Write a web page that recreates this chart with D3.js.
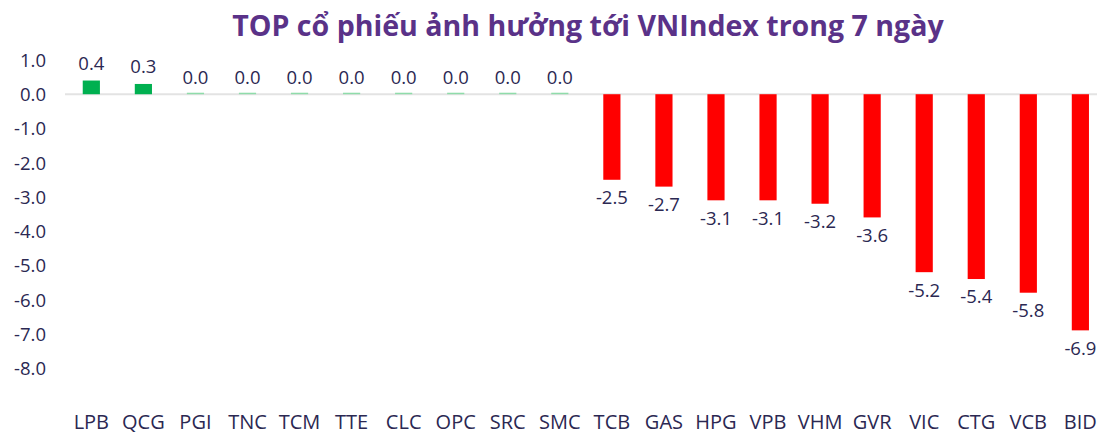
<!DOCTYPE html>
<html>
<head>
<meta charset="utf-8">
<script src="https://cdn.jsdelivr.net/npm/d3@7"></script>
<style>
  html, body { margin: 0; padding: 0; background: #fff; }
  svg { display: block; }
  text { font-family: "Open Sans", "Noto Sans", sans-serif; }
</style>
</head>
<body>
<svg id="chart" width="1099" height="434"></svg>
<script>
const titleText = "TOP cổ phiếu ảnh hưởng tới VNIndex trong 7 ngày";
const categories = ["LPB","QCG","PGI","TNC","TCM","TTE","CLC","OPC","SRC","SMC","TCB","GAS","HPG","VPB","VHM","GVR","VIC","CTG","VCB","BID"];
const values = [0.4,0.3,0.0,0.0,0.0,0.0,0.0,0.0,0.0,0.0,-2.5,-2.7,-3.1,-3.1,-3.2,-3.6,-5.2,-5.4,-5.8,-6.9];
const yTicks = [1,0,-1,-2,-3,-4,-5,-6,-7,-8];

const W = 1099, H = 434;
const svg = d3.select("#chart");
const textColor = "#2b2852";
const green = "#00b050", red = "#ff0000";
const fmt = v => d3.format(".1f")(v).replace("\u2212", "-");

const y = d3.scaleLinear().domain([-8, 1]).range([368, 60]);
const x = d3.scaleBand().domain(categories).range([65.3, 1106.4]).paddingInner(0.67).paddingOuter(0.335);

// title
const title = svg.append("text")
  .attr("x", 588).attr("y", 36)
  .attr("text-anchor", "middle")
  .attr("font-weight", "bold")
  .attr("font-family", "Lato, sans-serif")
  .attr("font-size", 27)
  .attr("fill", "#5a3288")
  .text(titleText);
const tw = title.node().getComputedTextLength();
if (tw > 0) title.attr("font-size", 27 * 712 / tw);

// y axis
const yAxis = d3.axisLeft(y).tickValues(yTicks).tickFormat(fmt).tickSize(0).tickPadding(0);
const yg = svg.append("g").attr("transform", "translate(46,0)").call(yAxis);
yg.select(".domain").remove();
yg.selectAll("text").attr("font-size", 18.5).attr("fill", textColor).attr("font-family", "Open Sans, sans-serif").attr("dy", "0.35em");

// zero line
svg.append("line")
  .attr("x1", 65).attr("x2", 1097)
  .attr("y1", y(0)).attr("y2", y(0))
  .attr("stroke", "#e3e3e3").attr("stroke-width", 2);

// bars
const data = categories.map((c, i) => ({c, v: values[i]}));
svg.selectAll("rect.bar").data(data).enter().append("rect")
  .attr("class", "bar")
  .attr("x", d => x(d.c))
  .attr("width", x.bandwidth())
  .attr("y", d => d.v > 0 ? y(d.v) : (d.v === 0 ? y(0) - 1.5 : y(0)))
  .attr("height", d => d.v === 0 ? 1.5 : Math.abs(y(d.v) - y(0)))
  .attr("fill", d => d.v > 0 ? green : (d.v === 0 ? "#8fdcaa" : red));

// value labels
svg.selectAll("text.val").data(data).enter().append("text")
  .attr("class", "val")
  .attr("x", d => x(d.c) + x.bandwidth() / 2)
  .attr("y", d => d.v >= 0 ? y(d.v) - 17 : y(d.v) + 18)
  .attr("dy", "0.35em")
  .attr("text-anchor", "middle")
  .attr("font-size", 18.5)
  .attr("fill", textColor)
  .text(d => fmt(d.v));

// x axis labels
const xAxis = d3.axisBottom(x).tickSize(0).tickPadding(0);
const xg = svg.append("g").attr("transform", "translate(0,422)").call(xAxis);
xg.select(".domain").remove();
xg.selectAll("text").attr("font-size", 20).attr("fill", textColor).attr("font-family", "Open Sans, sans-serif").attr("dy", "0.35em");
</script>
</body>
</html>
